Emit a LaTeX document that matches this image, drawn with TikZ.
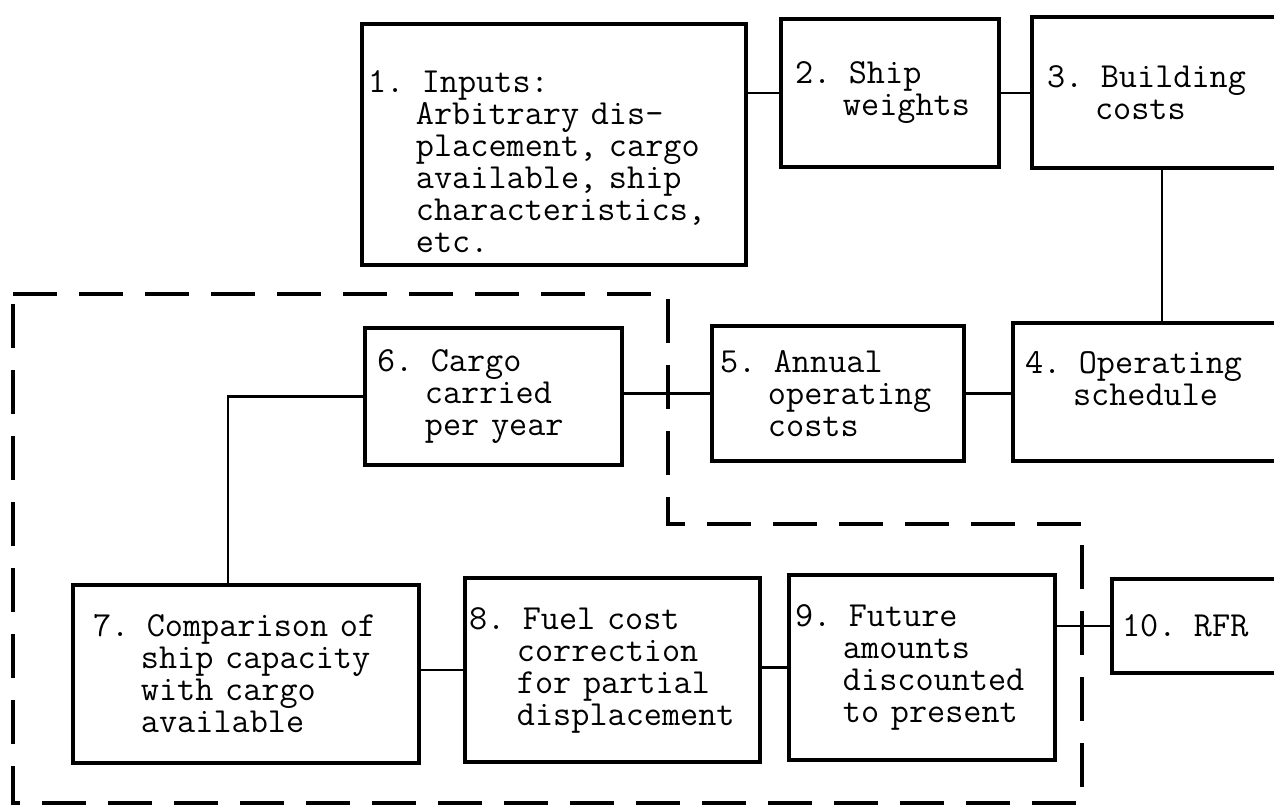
\documentclass[tikz,border=0pt]{standalone}
\usepackage{fontspec}
\usepackage{tikz}
\usetikzlibrary{positioning}

% typewriter face of the flow chart, fixed line pitch
\newcommand{\typer}{\fontsize{17.6}{16}\selectfont\ttfamily\lineskiplimit=-100pt\relax}
\newcommand{\ind}{\phantom{0.\ }}

\begin{document}
\begin{tikzpicture}[
    x=0.5pt,
    y=-0.5pt,
    stepbox/.style={
        draw=black,
        line width=2pt,
        anchor=north west,
        align=left,
        inner ysep=0pt,
        font=\typer
    },
    link/.style={line width=1.4pt},
    region/.style={line width=1.6pt,dash pattern=on 22pt off 11pt}
]

\useasboundingbox (0,0) rectangle (1274,808);
\clip (0,0) rectangle (1274,808);

% ---------------------------------------------------------
% Top row: inputs, weights, building costs
% ---------------------------------------------------------

\node[stepbox,text width=186pt,inner xsep=3pt,minimum height=120.5pt]
    (inputs) at (360,22)
{
\rule{0pt}{28pt}1. Inputs:\\
\ind Arbitrary dis-\\
\ind placement, cargo\\
\ind available, ship\\
\ind characteristics,\\
\ind etc.
};

\node[stepbox,text width=95pt,inner xsep=7pt,minimum height=74pt]
    (weights) at (779,17)
{
2. Ship\\
\ind weights
};

\node[stepbox,text width=115pt,inner xsep=7.5pt,minimum height=75.5pt]
    (building) at (1030,15)
{
3. Building\\
\ind costs
};

% ---------------------------------------------------------
% Middle row: schedule, annual costs, cargo per year
% ---------------------------------------------------------

\node[stepbox,text width=137pt,inner xsep=6pt,minimum height=69pt]
    (schedule) at (1011,321)
{
4. Operating\\
\ind schedule\rule[-14pt]{0pt}{14pt}
};

\node[stepbox,text width=118pt,inner xsep=4pt,minimum height=67.5pt]
    (opcost) at (710,324)
{
5. Annual\\
\ind operating\\
\ind costs
};

\node[stepbox,text width=116.5pt,inner xsep=6pt,minimum height=68.5pt]
    (cargo) at (363,326)
{
6. Cargo\\
\ind carried\\
\ind per year
};

% ---------------------------------------------------------
% Bottom row: comparison, fuel, discounting, RFR
% ---------------------------------------------------------

\node[stepbox,text width=153pt,inner xsep=10pt,minimum height=89pt]
    (compare) at (71,583)
{
7. Comparison of\\
\ind ship capacity\\
\ind with cargo\\
\ind available
};

\node[stepbox,text width=143.5pt,inner xsep=2pt,minimum height=92pt]
    (fuel) at (463,576)
{
8. Fuel cost\\
\ind correction\\
\ind for partial\\
\ind displacement
};

\node[stepbox,text width=127pt,inner xsep=3pt,minimum height=92.5pt]
    (discount) at (787,573)
{
9. Future\\
\ind amounts\\
\ind discounted\\
\ind to present
};

\node[stepbox,text width=115pt,inner xsep=5pt,minimum height=47pt]
    (rfr) at (1110,577)
{
10. RFR
};

% ---------------------------------------------------------
% Connectors
% ---------------------------------------------------------

\draw[link] (weights.west) -- (weights.west -| inputs.east);
\draw[link] (weights.east) -- (weights.east -| building.west);
\draw[link] (building.south) -- (schedule.north);
\draw[link] (opcost.east) -- (opcost.east -| schedule.west);
\draw[link] (opcost.west) -- (opcost.west -| cargo.east);
\draw[link] (cargo.west) -| ([xshift=-9pt]compare.north);
\draw[link] (fuel.west) -- (fuel.west -| compare.east);
\draw[link] (discount.west) -- (discount.west -| fuel.east);
\draw[link] (rfr.west) -- (rfr.west -| discount.east);

% ---------------------------------------------------------
% Dashed loop region
% ---------------------------------------------------------

\draw[region]
    (13,294) -- (668,294) -- (668,524) -- (1082,524)
    -- (1082,803) -- (13,803) -- cycle;

\end{tikzpicture}
\end{document}
